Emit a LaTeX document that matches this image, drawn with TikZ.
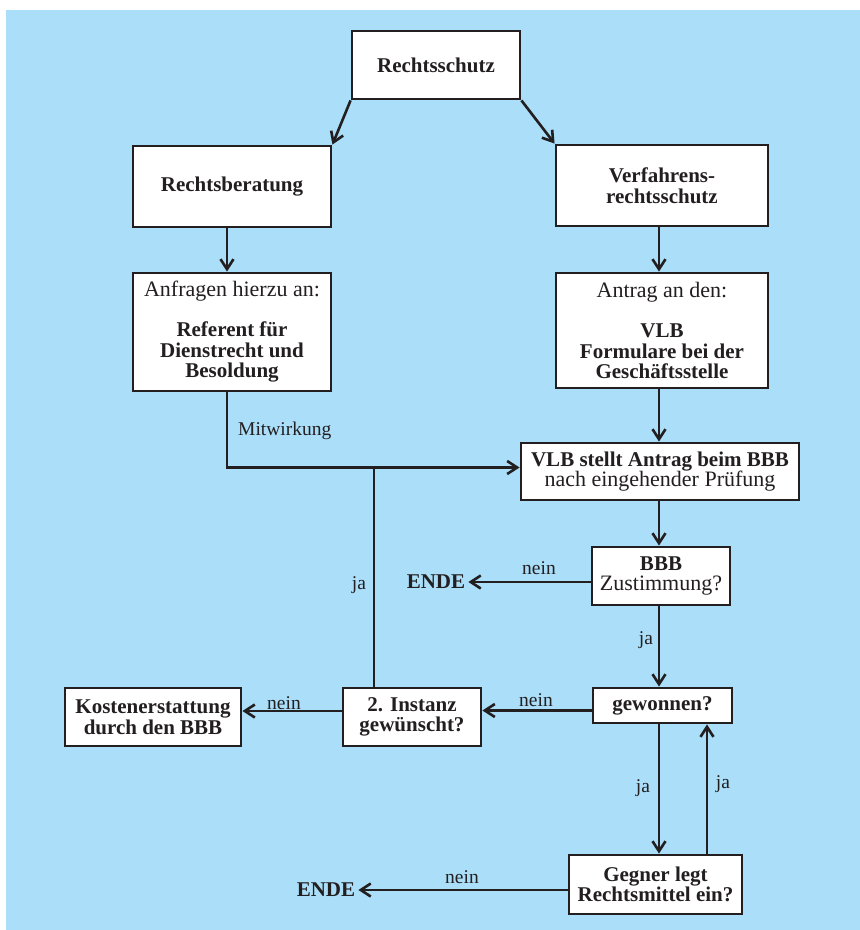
\documentclass[tikz,border=0pt]{standalone}
\usepackage{fontspec}
\setmainfont{Liberation Serif}
\usetikzlibrary{arrows.meta,calc}
\definecolor{bgblue}{RGB}{170,222,249}
\definecolor{ink}{RGB}{35,31,32}
\newcommand\bfz{\fontsize{21}{20.5}\selectfont\bfseries}
\newcommand\rgz{\fontsize{22}{20.5}\selectfont\mdseries}
\newcommand\lbz{\fontsize{19.5}{20}\selectfont\mdseries}
\begin{document}
\begin{tikzpicture}[x=1pt,y=-1pt,
  box/.style={draw=ink,line width=2.9pt,fill=white,inner sep=0pt,align=center,text=ink,font=\bfz},
  conn/.style={draw=ink,line width=2.6pt},
  arr/.style={conn,-{Straight Barb[length=10pt,width=13pt]}},
  lbl/.style={text=ink,font=\lbz,inner sep=0pt},
  endl/.style={text=ink,font=\bfz,inner sep=3pt}]
\useasboundingbox (0,0) rectangle (860,930);
\fill[white] (0,0) rectangle (860,930);
\fill[bgblue] (6,10) rectangle (860,930);

\node[box,minimum width=168pt,minimum height=68pt] (rs) at (436,65) {Rechtsschutz};
\node[box,minimum width=198pt,minimum height=81pt] (rb) at (232,186.5) {Rechtsberatung};
\node[box,minimum width=212pt,minimum height=81pt] (vr) at (662,185.5) {Verfahrens-\\rechtsschutz};
\node[box,minimum width=198pt,minimum height=118pt] (anf) at (232,332)
  {{\rgz Anfragen hierzu an:}\\[19.5pt]Referent für\\Dienstrecht und\\Besoldung};
\node[box,minimum width=212pt,minimum height=115pt] (ant) at (662,330.5)
  {{\rgz Antrag an den:}\\[19.5pt]VLB\\Formulare bei der\\Geschäftsstelle};
\node[box,minimum width=278pt,minimum height=57pt] (vlb) at (660,471.5)
  {VLB stellt Antrag beim BBB\\{\rgz nach eingehender Prüfung}};
\node[box,minimum width=138pt,minimum height=58pt] (bbb) at (661,576)
  {BBB\\{\rgz Zustimmung?}};
\node[box,minimum width=139pt,minimum height=35pt] (gew) at (662.5,705.5) {gewonnen?};
\node[box,minimum width=138pt,minimum height=58pt] (inst) at (412,717) {2. Instanz\\gewünscht?};
\node[box,minimum width=176pt,minimum height=58pt] (kost) at (153,717) {Kostenerstattung\\durch den BBB};
\node[box,minimum width=173pt,minimum height=59pt] (geg) at (655.5,884.5) {Gegner legt\\Rechtsmittel ein?};
\node[endl] (ende1) at (436,582) {ENDE};
\node[endl] (ende2) at (326,890) {ENDE};
\coordinate (hin) at ([yshift=4pt]vlb.west);
\coordinate (up) at ([xshift=-38pt]inst.north);
\coordinate (lft) at ([xshift=-5pt]anf.south);

\draw[arr] (rs.south west) -- (rb.north east);
\draw[arr] (rs.south east) -- (vr.north west);
\draw[arr] ([xshift=-5pt]rb.south) -- ([xshift=-5pt]rb.south |- anf.north);
\draw[arr] ([xshift=-3pt]vr.south) -- ([xshift=-3pt]vr.south |- ant.north);
\draw[arr] (lft) |- (hin);
\draw[arr] ([xshift=-3pt]ant.south) -- ([xshift=-3pt]ant.south |- vlb.north);
\draw[arr] ([xshift=-1pt]vlb.south) -- ([xshift=-1pt]vlb.south |- bbb.north);
\draw[arr] (bbb.west |- ende1) -- (ende1);
\draw[arr] ([xshift=-2pt]bbb.south) -- ([xshift=-2pt]bbb.south |- gew.north);
\draw[arr] ([yshift=-5pt]gew.west) -- ([yshift=-5pt]gew.west -| inst.east);
\draw[arr] ([yshift=6pt]inst.west) -- ([yshift=6pt]inst.west -| kost.east);
\draw[conn] (up) -- (up |- hin);
\draw[arr] ([xshift=-3.5pt]gew.south) -- ([xshift=-3.5pt]gew.south |- geg.north);
\draw[arr] ([xshift=51.5pt]geg.north) -- ([xshift=51.5pt]geg.north |- gew.south);
\draw[arr] (geg.west |- ende2) -- (ende2);

\node[lbl,anchor=west] at (238,431) {Mitwirkung};
\node[lbl] at (539,568) {nein};
\node[lbl] at (646,640) {ja};
\node[lbl] at (536,700) {nein};
\node[lbl] at (284,703) {nein};
\node[lbl] at (359,585) {ja};
\node[lbl] at (643,788) {ja};
\node[lbl] at (723,784) {ja};
\node[lbl] at (462,877) {nein};
\end{tikzpicture}
\end{document}
